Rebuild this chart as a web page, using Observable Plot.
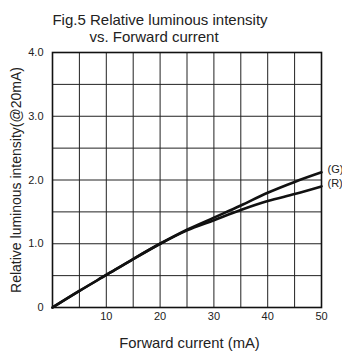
<!DOCTYPE html>
<html>
<head>
<meta charset="utf-8">
<script src="https://cdn.jsdelivr.net/npm/d3@7"></script>
<script src="https://cdn.jsdelivr.net/npm/@observablehq/plot@0.6"></script>
<style>
  html, body { margin: 0; padding: 0; background: #fff; }
  #chart svg { display: block; }
</style>
</head>
<body>
<div id="chart"></div>
<script>
// Forward current (mA) at which the curves are sampled
const current = [0, 5, 10, 15, 20, 25, 30, 35, 40, 45, 50];
// Relative luminous intensity, normalised to 1.0 at 20 mA
const green = [0, 0.26, 0.51, 0.76, 1.0, 1.22, 1.41, 1.60, 1.80, 1.97, 2.12];
const red   = [0, 0.26, 0.51, 0.76, 1.0, 1.21, 1.37, 1.53, 1.67, 1.78, 1.90];
const seriesNames = ["(G)", "(R)"];

const xTicks = [10, 20, 30, 40, 50];
const yTicks = [0, 1, 2, 3, 4];
const xGrid = [5, 10, 15, 20, 25, 30, 35, 40, 45];
const yGrid = [0.5, 1, 1.5, 2, 2.5, 3, 3.5];

const rows = [];
[green, red].forEach((vals, s) => {
  current.forEach((c, i) => rows.push({series: seriesNames[s], current: c, value: vals[i]}));
});
const ends = [
  {series: seriesNames[0], current: current[current.length - 1], value: green[green.length - 1]},
  {series: seriesNames[1], current: current[current.length - 1], value: red[red.length - 1]}
];

const font = "Liberation Sans, Arial, sans-serif";

const chart = Plot.plot({
  width: 342,
  height: 351,
  marginLeft: 52,
  marginRight: 21,
  marginTop: 52,
  marginBottom: 44,
  style: {fontFamily: font, background: "#fff", color: "#222"},
  x: {domain: [0, 50]},
  y: {domain: [0, 4]},
  marks: [
    Plot.ruleX(xGrid, {stroke: "#222", strokeWidth: 1}),
    Plot.ruleY(yGrid, {stroke: "#222", strokeWidth: 1}),
    Plot.frame({stroke: "#111", strokeWidth: 1.6}),
    Plot.axisX(xTicks, {tickSize: 0, tickPadding: 5, fontSize: 11, label: null}),
    Plot.axisY(yTicks, {
      tickSize: 0, tickPadding: 9, fontSize: 11, label: null,
      tickFormat: d => d === 0 ? "0" : d.toFixed(1)
    }),
    Plot.line(rows, {
      x: "current", y: "value", z: "series",
      stroke: "#111", strokeWidth: 2.6, curve: "monotone-x"
    }),
    // Series labels at the right end of each curve
    Plot.text(ends, {
      x: "current", y: "value", text: "series",
      textAnchor: "start", dx: 6, dy: -3, fontSize: 11, fill: "#222"
    }),
    // Title, two lines
    Plot.text(["Fig.5 Relative luminous intensity"], {
      frameAnchor: "top", dx: -27, dy: -28, lineAnchor: "bottom",
      fontSize: 15, fill: "#222"
    }),
    Plot.text(["vs. Forward current"], {
      frameAnchor: "top", dx: -33, dy: -11, lineAnchor: "bottom",
      fontSize: 15, fill: "#222"
    }),
    // Axis titles
    Plot.text(["Forward current (mA)"], {
      frameAnchor: "bottom", dx: 2.5, dy: 40, lineAnchor: "bottom",
      fontSize: 14.8, fill: "#222"
    }),
    Plot.text(["Relative luminous intensity(@20mA)"], {
      frameAnchor: "left", dx: -36, rotate: -90, textAnchor: "middle",
      fontSize: 14, fill: "#222"
    })
  ]
});

document.getElementById("chart").appendChild(chart);
</script>
</body>
</html>
